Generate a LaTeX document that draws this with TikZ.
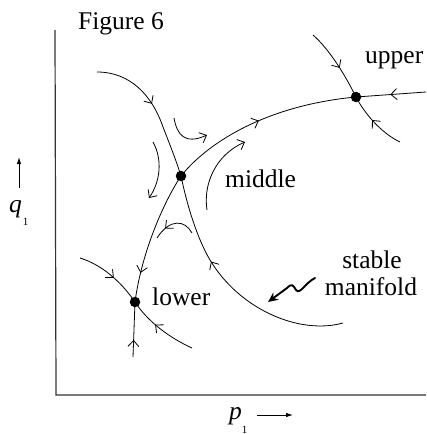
\documentclass[tikz,border=0pt]{standalone}
\usepackage{fontspec}
\setmainfont{Liberation Serif}
\usetikzlibrary{arrows.meta,decorations.markings}
\tikzset{
  curve/.style={line width=0.8pt},
  barb/.style={postaction={decorate, decoration={markings,
      mark=at position #1 with {\arrow{Straight Barb[length=6pt,width=11pt,line width=0.8pt]}}}}},
  tipbarb/.style={-{Straight Barb[length=6pt,width=11pt,line width=0.8pt]}},
  saddle/.style={circle, fill=black, inner sep=0pt, minimum size=10.5pt},
  lbl/.style={font=\fontsize{25.5}{28}\selectfont, inner sep=0pt},
  axis/.style={line width=1.2pt, black!80},
  axarrow/.style={line width=0.9pt, -{Latex[length=7pt,width=4.5pt]}},
  squig/.style={line width=1.9pt, line cap=round, -{Stealth[length=10pt,width=9pt]}}
}
\begin{document}
\begin{tikzpicture}[x=1pt,y=-1pt]
\useasboundingbox (0,0) rectangle (426,434);

% axes
\draw[axis] (55,30) -- (56,395) -- (426,395);
\coordinate (qa) at (19,188); \coordinate (qb) at (19,157);
\draw[axarrow] (qa) -- (qb);
\coordinate (pa) at (257,415); \coordinate (pb) at (293,415);
\draw[axarrow] (pa) -- (pb);

% saddle points
\coordinate (Uc) at (356,97);
\coordinate (Mc) at (181,176);
\coordinate (Lc) at (135,302);

% free ends
\coordinate (u1) at (313,35);
\coordinate (u2) at (400,142);
\coordinate (u3) at (426,92);
\coordinate (m1) at (97,72);
\coordinate (m2) at (343,323);
\coordinate (l1) at (80,258);
\coordinate (l2) at (192,348);
\coordinate (l3) at (133,357);

% upper saddle branches
\draw[curve, barb=0.56] (u1) .. controls (330,50) and (345,75) .. (Uc);
\draw[curve, barb=0.56] (u2) .. controls (385,135) and (367,118) .. (Uc);
\draw[curve, barb=0.51] (u3) -- (Uc);
% unstable manifold middle -> upper, middle -> lower
\draw[curve, barb=0.49] (Mc) .. controls (210,140) and (270,105) .. (Uc);
\draw[curve, barb=0.78] (Mc) .. controls (165,200) and (142,250) .. (Lc);
% lower saddle branches
\draw[curve, barb=0.31] (l3) -- (Lc);
\draw[curve, barb=0.55] (l1) .. controls (100,264) and (120,280) .. (Lc);
\draw[curve, barb=0.59] (l2) .. controls (170,338) and (148,322) .. (Lc);
% stable manifold of middle
\draw[curve, barb=0.46] (m1) .. controls (130,72) and (152,95) .. (163,127)
      .. controls (170,145) and (176,160) .. (Mc);
\draw[curve, barb=0.63] (m2) .. controls (300,335) and (240,310) .. (210,260)
      .. controls (197,238) and (187,205) .. (Mc);

% flow arrows near middle
\draw[curve, tipbarb] (174,118) .. controls (177,135) and (185,145) .. (207,135);
\draw[curve, tipbarb] (153,142) .. controls (163,160) and (160,182) .. (149,198);
\draw[curve, tipbarb] (207,210) .. controls (203,185) and (215,155) .. (245,142);
\draw[curve, barb=0.72] (192,233) .. controls (185,220) and (170,218) .. (157,238);

% squiggle pointer
\draw[squig] (315,278) .. controls (305,283) and (300,295) .. (296,290)
      .. controls (293,285) and (292,283) .. (287,288) -- (268,302);

% dots
\node[saddle] (U) at (Uc) {};
\node[saddle] (M) at (Mc) {};
\node[saddle] (L) at (Lc) {};

% labels
\node[lbl, anchor=base west] (fig) at (78,29) {Figure 6};
\node[lbl, anchor=base west] (up) at (365,63) {upper};
\node[lbl, anchor=base west] (mid) at (225,187) {middle};
\node[lbl, anchor=base west] (low) at (152,305) {lower};
\node[lbl, anchor=base] (st) at (372,268) {stable};
\node[lbl, anchor=base] (mf) at (371,295) {manifold};
\node[lbl, anchor=base west] (q) at (9,212) {\textit{q}\kern1pt\raisebox{-13pt}{\fontsize{11}{11}\selectfont 1}};
\node[lbl, anchor=base west] (p) at (229,419) {\textit{p}\raisebox{-14pt}{\fontsize{11}{11}\selectfont 1}};
\end{tikzpicture}
\end{document}
